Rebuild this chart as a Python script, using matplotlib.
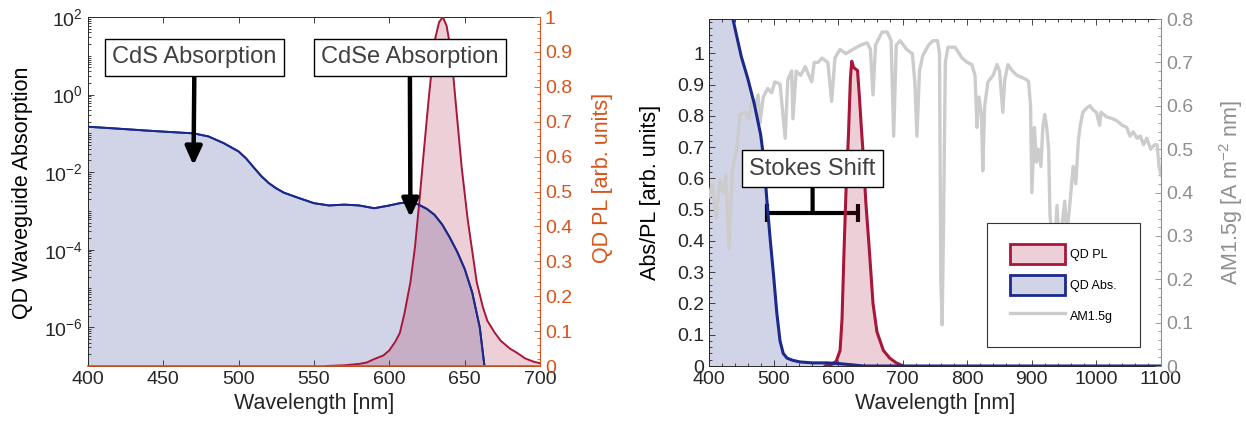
import numpy as np
import matplotlib
matplotlib.use('Agg')
import matplotlib.pyplot as plt
from matplotlib.patches import Patch, Rectangle
from matplotlib.lines import Line2D
from matplotlib.ticker import FixedLocator, MultipleLocator, LogLocator, FuncFormatter, NullFormatter

plt.rcParams['font.family'] = ['Liberation Sans', 'DejaVu Sans']
plt.rcParams['mathtext.fontset'] = 'custom'
plt.rcParams['mathtext.rm'] = 'Liberation Sans'
plt.rcParams['mathtext.it'] = 'Liberation Sans:italic'
plt.rcParams['mathtext.bf'] = 'Liberation Sans:bold'
plt.rcParams['axes.unicode_minus'] = False

# ---------------- data: left panel ----------------
abs_wl = [400, 420, 440, 460, 470, 480, 490, 500, 505, 510, 515, 520, 525, 530, 540,
          550, 560, 570, 580, 590, 600, 607, 612, 619, 625, 630, 635, 640, 645, 650,
          655, 660, 663]
abs_val = [1.48e-1, 1.32e-1, 1.17e-1, 1.05e-1, 1.0e-1, 8.3e-2, 5.6e-2, 3.4e-2, 2.24e-2,
           1.32e-2, 7.9e-3, 5.2e-3, 3.8e-3, 2.95e-3, 2.14e-3, 1.58e-3, 1.38e-3, 1.45e-3,
           1.38e-3, 1.17e-3, 1.38e-3, 1.58e-3, 1.66e-3, 1.48e-3, 1.12e-3, 7.9e-4, 4.5e-4,
           2.1e-4, 8.9e-5, 3.2e-5, 7.9e-6, 1.0e-6, 1.1e-7]

pl_wl = [558, 570, 580, 585, 590, 596, 600, 604, 607, 610, 614, 617, 620, 623, 626, 630,
         633, 635.5, 638, 641, 645, 648, 652, 655, 658, 662, 665, 670, 674, 680, 685, 690,
         696, 700]
pl_val = [0.0, 0.002, 0.006, 0.01, 0.02, 0.03, 0.045, 0.07, 0.095, 0.15, 0.24, 0.34, 0.475,
          0.62, 0.76, 0.93, 0.985, 1.0, 0.975, 0.9, 0.71, 0.57, 0.42, 0.33, 0.24, 0.17, 0.13,
          0.095, 0.072, 0.05, 0.037, 0.022, 0.012, 0.008]

cds_label = 'CdS Absorption'
cds_point = (470, 1.5e-2)
cdse_label = 'CdSe Absorption'
cdse_point = (614, 6.8e-4)

# ---------------- data: right panel ----------------
abs2_wl = [400, 420, 437, 450, 460, 470, 480, 485, 490, 495, 500, 505, 510, 515, 521, 530,
           541, 560, 583, 600, 620, 640, 660, 1100]
abs2_val = [1.6, 1.3, 1.11, 0.99, 0.92, 0.84, 0.74, 0.66, 0.52, 0.40, 0.29, 0.17, 0.08, 0.04,
            0.025, 0.018, 0.013, 0.01, 0.01, 0.008, 0.004, 0.0, 0.0, 0.0]

pl2_wl = [580, 590, 597, 603, 606, 609, 612, 616, 619, 621, 624, 627, 630, 633, 636, 638,
          643, 648, 654, 660, 670, 680, 690, 701]
pl2_val = [0.0, 0.005, 0.015, 0.05, 0.15, 0.36, 0.55, 0.74, 0.92, 0.975, 0.955, 0.95, 0.945,
           0.86, 0.76, 0.70, 0.52, 0.38, 0.2, 0.11, 0.05, 0.025, 0.01, 0.0]

am_wl = [400, 405, 411, 417, 422, 426, 431, 436, 443, 448, 456, 462, 466, 472, 476, 479, 484,
         491, 497, 502, 510, 518, 522, 528, 530, 535, 542, 549, 559, 563, 569, 575, 584, 590,
         595, 603, 612, 623, 635, 645, 650, 654, 658, 668, 676, 682, 686, 690, 696, 706, 715,
         719, 722, 726, 731, 740, 747, 754, 757, 759, 761, 763, 766, 770, 781, 792, 800, 807,
         812, 815, 818, 822, 824, 827, 832, 840, 846, 850, 855, 858, 863, 870, 877, 885, 892,
         895, 898, 900, 904, 907, 910, 914, 917, 920, 923, 926, 928, 932, 936, 939, 942, 947,
         951, 954, 958, 964, 968, 972, 975, 979, 985, 990, 995, 1000, 1005, 1007, 1015, 1025,
         1032, 1040, 1047, 1052, 1057, 1063, 1068, 1073, 1078, 1084, 1090, 1094, 1097, 1100]
am_val = [0.39, 0.42, 0.34, 0.43, 0.40, 0.44, 0.27, 0.45, 0.50, 0.58, 0.585, 0.57, 0.61, 0.60,
          0.625, 0.56, 0.62, 0.64, 0.63, 0.655, 0.65, 0.525, 0.66, 0.68, 0.57, 0.68, 0.67, 0.69,
          0.655, 0.70, 0.70, 0.71, 0.70, 0.61, 0.71, 0.73, 0.72, 0.73, 0.74, 0.745, 0.73, 0.625,
          0.74, 0.77, 0.77, 0.75, 0.53, 0.74, 0.75, 0.73, 0.72, 0.65, 0.53, 0.68, 0.715, 0.74,
          0.75, 0.75, 0.72, 0.20, 0.095, 0.30, 0.70, 0.735, 0.735, 0.71, 0.70, 0.695, 0.67, 0.55,
          0.62, 0.58, 0.45, 0.60, 0.655, 0.67, 0.695, 0.68, 0.585, 0.66, 0.695, 0.68, 0.67,
          0.665, 0.66, 0.655, 0.60, 0.40, 0.55, 0.47, 0.50, 0.46, 0.55, 0.58, 0.55, 0.50, 0.35,
          0.28, 0.30, 0.37, 0.28, 0.33, 0.38, 0.30, 0.36, 0.46, 0.42, 0.52, 0.555, 0.585, 0.595,
          0.60, 0.59, 0.585, 0.555, 0.585, 0.575, 0.57, 0.565, 0.555, 0.55, 0.53, 0.54, 0.525,
          0.53, 0.51, 0.525, 0.50, 0.51, 0.51, 0.46, 0.44]

stokes_label = 'Stokes Shift'
stokes_wl = [490, 631]
stokes_level = 0.49

legend_labels = ['QD PL', 'QD Abs.', 'AM1.5g']

# ---------------- styles ----------------
BLUE = '#1b2a8a'
RED = '#a8163a'
ORANGE = '#D95319'
GRAY = '#cccccc'
GRAYTXT = '#8f8f8f'
DARK = '#262626'
TICK_FS = 14
LAB_FS = 15.5
BOX_FS = 17

fig = plt.figure(figsize=(12.46, 4.29), dpi=100)

# ======== Left panel ========
ax1 = fig.add_axes([0.07063, 0.14685, 0.36276, 0.81352])
ax1.set_yscale('log')
ax1.fill_between(abs_wl, 1e-7, abs_val, color=BLUE, alpha=0.2, lw=0)
ax1.plot(abs_wl, abs_val, color=BLUE, lw=1.4)
ax1.set_xlim(400, 700)
ax1.set_ylim(1e-7, 1e2)
ax1.yaxis.set_major_locator(FixedLocator([1e-6, 1e-4, 1e-2, 1e0, 1e2]))
ax1.yaxis.set_minor_locator(LogLocator(base=10, subs=np.arange(1, 10), numticks=30))
ax1.yaxis.set_minor_formatter(NullFormatter())
ax1.xaxis.set_major_locator(MultipleLocator(50))
ax1.tick_params(axis='both', which='both', direction='in', labelsize=TICK_FS, colors=DARK,
                width=0.6, top=True)
ax1.tick_params(which='major', length=4.5)
ax1.tick_params(which='minor', length=2.2)
ax1.tick_params(axis='y', which='both', right=False)
for s in ['left', 'top', 'bottom']:
    ax1.spines[s].set_color(DARK)
    ax1.spines[s].set_linewidth(0.7)
ax1.spines['right'].set_visible(False)
ax1.set_xlabel('Wavelength [nm]', fontsize=LAB_FS, color=DARK)
ax1.set_ylabel('QD Waveguide Absorption', fontsize=LAB_FS, color='black')
ax1.yaxis.set_label_coords(-0.122, 0.497)

ax1b = ax1.twinx()
ax1b.fill_between(pl_wl, 0, pl_val, color=RED, alpha=0.2, lw=0)
ax1b.plot(pl_wl, pl_val, color=RED, lw=1.4)
ax1b.plot(abs_wl, abs_val, color=BLUE, lw=1.4, transform=ax1.transData)
ax1b.set_ylim(0, 1)
ax1b.set_xlim(400, 700)
ax1b.yaxis.set_major_locator(MultipleLocator(0.1))
ax1b.yaxis.set_minor_locator(MultipleLocator(0.02))
ax1b.yaxis.set_major_formatter(FuncFormatter(lambda v, p: '%g' % round(v, 2)))
ax1b.tick_params(axis='y', which='both', direction='in', labelsize=TICK_FS, colors=ORANGE,
                 width=0.6)
ax1b.tick_params(which='major', length=4.5)
ax1b.tick_params(which='minor', length=2.2)
ax1b.spines['right'].set_color(ORANGE)
ax1b.spines['right'].set_linewidth(0.8)
ax1b.spines['bottom'].set_color(ORANGE)
ax1b.spines['bottom'].set_linewidth(1.2)
ax1b.spines['left'].set_visible(False)
ax1b.spines['top'].set_visible(False)
ax1b.set_ylabel('QD PL [arb. units]', fontsize=LAB_FS, color=ORANGE)
ax1b.yaxis.set_label_coords(1.115, 0.539)

arrow_kw = dict(arrowstyle='-|>,head_length=0.55,head_width=0.25', lw=3.2, color='black',
                mutation_scale=20, shrinkA=0, shrinkB=0)
box_kw = dict(boxstyle='square,pad=0.3', fc='white', ec='black', lw=1.0)
ax1b.annotate(cds_label, xy=cds_point, xycoords=ax1.transData, xytext=(0.2356, 0.884),
              textcoords='axes fraction', ha='center', va='center', fontsize=BOX_FS,
              color='#404040', bbox=box_kw, arrowprops=arrow_kw, zorder=6)
ax1b.annotate(cdse_label, xy=cdse_point, xycoords=ax1.transData, xytext=(0.712, 0.884),
              textcoords='axes fraction', ha='center', va='center', fontsize=BOX_FS,
              color='#404040', bbox=box_kw, arrowprops=arrow_kw, zorder=6)

# ======== Right panel ========
ax2 = fig.add_axes([0.56902, 0.14685, 0.36276, 0.80886])
ax2.fill_between(abs2_wl, 0, abs2_val, color=BLUE, alpha=0.2, lw=0)
ax2.set_xlim(400, 1100)
ax2.set_ylim(0, 1.11)
ax2.xaxis.set_major_locator(MultipleLocator(100))
ax2.xaxis.set_minor_locator(MultipleLocator(20))
ax2.yaxis.set_major_locator(FixedLocator(np.round(np.arange(0, 1.01, 0.1), 2)))
ax2.yaxis.set_minor_locator(MultipleLocator(0.02))
ax2.yaxis.set_major_formatter(FuncFormatter(lambda v, p: '%g' % round(v, 2)))
ax2.tick_params(axis='both', which='both', direction='in', labelsize=TICK_FS, colors=DARK,
                width=0.6, top=True)
ax2.tick_params(which='major', length=4.5)
ax2.tick_params(which='minor', length=2.2)
ax2.tick_params(axis='y', which='both', right=False)
for s in ['left', 'top', 'bottom']:
    ax2.spines[s].set_color(DARK)
    ax2.spines[s].set_linewidth(0.7)
ax2.spines['right'].set_visible(False)
ax2.set_xlabel('Wavelength [nm]', fontsize=LAB_FS, color=DARK)
ax2.set_ylabel('Abs/PL [arb. units]', fontsize=LAB_FS, color='black')
ax2.yaxis.set_label_coords(-0.106, 0.499)

# Stokes shift marker
ax2.errorbar(np.mean(stokes_wl), stokes_level, xerr=np.diff(stokes_wl) / 2, fmt='none',
             ecolor='black', elinewidth=3, capsize=6.5, capthick=3, zorder=5)

ax2b = ax2.twinx()
ax2b.plot(am_wl, am_val, color=GRAY, lw=2.4, zorder=2)
ax2b.fill_between(pl2_wl, 0, pl2_val, color=RED, alpha=0.2, lw=0, zorder=3,
                  transform=ax2.transData)
ax2b.plot(pl2_wl, pl2_val, color=RED, lw=2.2, zorder=3, transform=ax2.transData)
ax2b.plot(abs2_wl, abs2_val, color=BLUE, lw=2.2, zorder=3, transform=ax2.transData)
ax2b.set_xlim(400, 1100)
ax2b.set_ylim(0, 0.8)
ax2b.yaxis.set_major_locator(MultipleLocator(0.1))
ax2b.yaxis.set_minor_locator(MultipleLocator(0.02))
ax2b.yaxis.set_major_formatter(FuncFormatter(lambda v, p: '%g' % round(v, 2)))
ax2b.tick_params(axis='y', which='both', direction='in', labelsize=TICK_FS, colors=GRAYTXT,
                 width=0.6)
ax2b.tick_params(which='major', length=4.5)
ax2b.tick_params(which='minor', length=2.2)
ax2b.spines['right'].set_color(GRAYTXT)
ax2b.spines['right'].set_linewidth(0.8)
for s in ['left', 'top', 'bottom']:
    ax2b.spines[s].set_visible(False)
ax2b.set_ylabel('AM1.5g [A m$^{-2}$ nm]', fontsize=LAB_FS, color=GRAYTXT)
ax2b.yaxis.set_label_coords(1.124, 0.5)

ax2b.annotate(stokes_label, xy=(np.mean(stokes_wl), stokes_level), xycoords=ax2.transData,
              xytext=(0.229, 0.569), textcoords='axes fraction', ha='center', va='center',
              fontsize=BOX_FS, color='#404040', bbox=box_kw,
              arrowprops=dict(arrowstyle='-', lw=3, color='black', shrinkA=0, shrinkB=0),
              zorder=6)

# Legend with a square frame
ax2b.add_patch(Rectangle((0.615, 0.055), 0.339, 0.357, transform=ax2b.transAxes,
                         fc='white', ec='#333333', lw=0.8, zorder=8))
handles = [Patch(facecolor=(0.659, 0.086, 0.227, 0.2), edgecolor=RED, lw=2),
           Patch(facecolor=(0.106, 0.165, 0.541, 0.2), edgecolor=BLUE, lw=2),
           Line2D([], [], color=GRAY, lw=2.4)]
leg = ax2b.legend(handles, legend_labels, loc='center',
                  bbox_to_anchor=(0.615 + 0.339 / 2, 0.055 + 0.357 / 2),
                  bbox_transform=ax2b.transAxes, frameon=False, fontsize=9,
                  handlelength=4.4, handleheight=2.1, labelspacing=0.85, handletextpad=0.4)
leg.set_zorder(9)

fig.savefig('out.png', dpi=100)
